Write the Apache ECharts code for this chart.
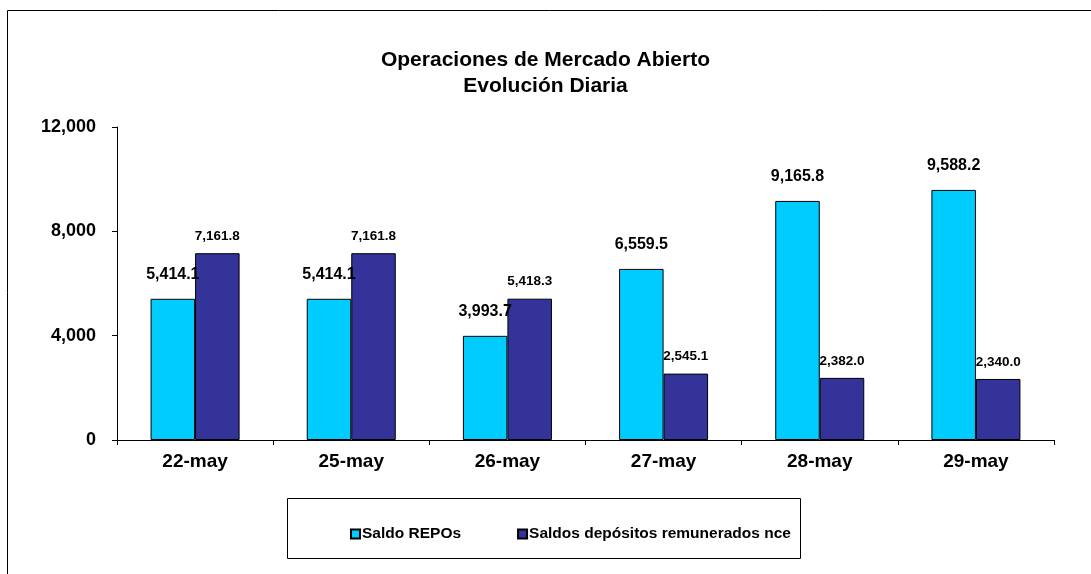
<!DOCTYPE html>
<html lang="es">
<head>
    <meta charset="UTF-8">
    <title>Operaciones de Mercado Abierto</title>
    <script src="https://cdn.jsdelivr.net/npm/echarts@6.0.0/dist/echarts.min.js"></script>
    <style>
        html, body { margin: 0; padding: 0; background: #fff; }
        #chart { width: 1091px; height: 574px; }
    </style>
</head>
<body>
<div id="chart"></div>
<script>
    const categories = ["22-may", "25-may", "26-may", "27-may", "28-may", "29-may"];
    const repos = [5414.1, 5414.1, 3993.7, 6559.5, 9165.8, 9588.2];
    const depositos = [7161.8, 7161.8, 5418.3, 2545.1, 2382.0, 2340.0];
    const seriesNames = ["Saldo REPOs", "Saldos depósitos remunerados nce"];

    const fmt = v => v.toLocaleString("en-US", { minimumFractionDigits: 1, maximumFractionDigits: 1 });

    const myChart = echarts.init(document.getElementById("chart"));
    const font = "Arial, 'Liberation Sans', sans-serif";

    const option = {
        animation: false,
        textStyle: { fontFamily: font },
        title: {
            text: "Operaciones de Mercado Abierto\nEvolución Diaria",
            left: 'center',
            top: 42,
            textStyle: { fontSize: 21, fontWeight: 'bold', color: '#000', lineHeight: 26, fontFamily: font }
        },
        graphic: [
            // marco exterior y caja de la leyenda
            { type: 'rect', shape: { x: 7.5, y: 10.5, width: 1100, height: 600 },
              style: { fill: 'none', stroke: '#000', lineWidth: 1 }, silent: true },
            { type: 'rect', shape: { x: 287.5, y: 498.5, width: 513, height: 60 },
              style: { fill: 'none', stroke: '#000', lineWidth: 1 }, silent: true }
        ],
        legend: {
            data: seriesNames,
            left: 345,
            top: 521,
            itemWidth: 9,
            itemHeight: 9,
            itemGap: 56,
            icon: 'rect',
            textStyle: { fontSize: 15.5, fontWeight: 'bold', color: '#000', padding: [0, 0, 0, -3] }
        },
        grid: { left: 117, right: 37, top: 127, bottom: 134 },
        xAxis: {
            type: 'category',
            data: categories,
            axisLine: { lineStyle: { color: '#000', width: 1 } },
            axisTick: { show: true, length: 5, lineStyle: { color: '#000' } },
            axisLabel: { fontSize: 19, fontWeight: 'bold', color: '#000', margin: 12 }
        },
        yAxis: {
            type: 'value',
            min: 0,
            max: 12000,
            interval: 4000,
            splitLine: { show: false },
            axisLine: { show: true, lineStyle: { color: '#000', width: 1 } },
            axisTick: { show: true, length: 5, lineStyle: { color: '#000' } },
            axisLabel: { fontSize: 18, fontWeight: 'bold', color: '#000', margin: 21,
                formatter: v => v.toLocaleString("en-US") }
        },
        series: [
            {
                name: seriesNames[0],
                type: 'bar',
                data: repos,
                barGap: '0%',
                barCategoryGap: '43%',
                itemStyle: { color: '#00CCFF', borderColor: '#000', borderWidth: 1 },
                label: {
                    show: true, position: 'top', distance: 16,
                    fontSize: 16, fontWeight: 'bold', color: '#000',
                    formatter: p => fmt(p.value)
                }
            },
            {
                name: seriesNames[1],
                type: 'bar',
                data: depositos,
                itemStyle: { color: '#333399', borderColor: '#000', borderWidth: 1 },
                label: {
                    show: true, position: 'top', distance: 10,
                    fontSize: 13.5, fontWeight: 'bold', color: '#000',
                    formatter: p => fmt(p.value)
                }
            }
        ]
    };

    myChart.setOption(option);
</script>
</body>
</html>
